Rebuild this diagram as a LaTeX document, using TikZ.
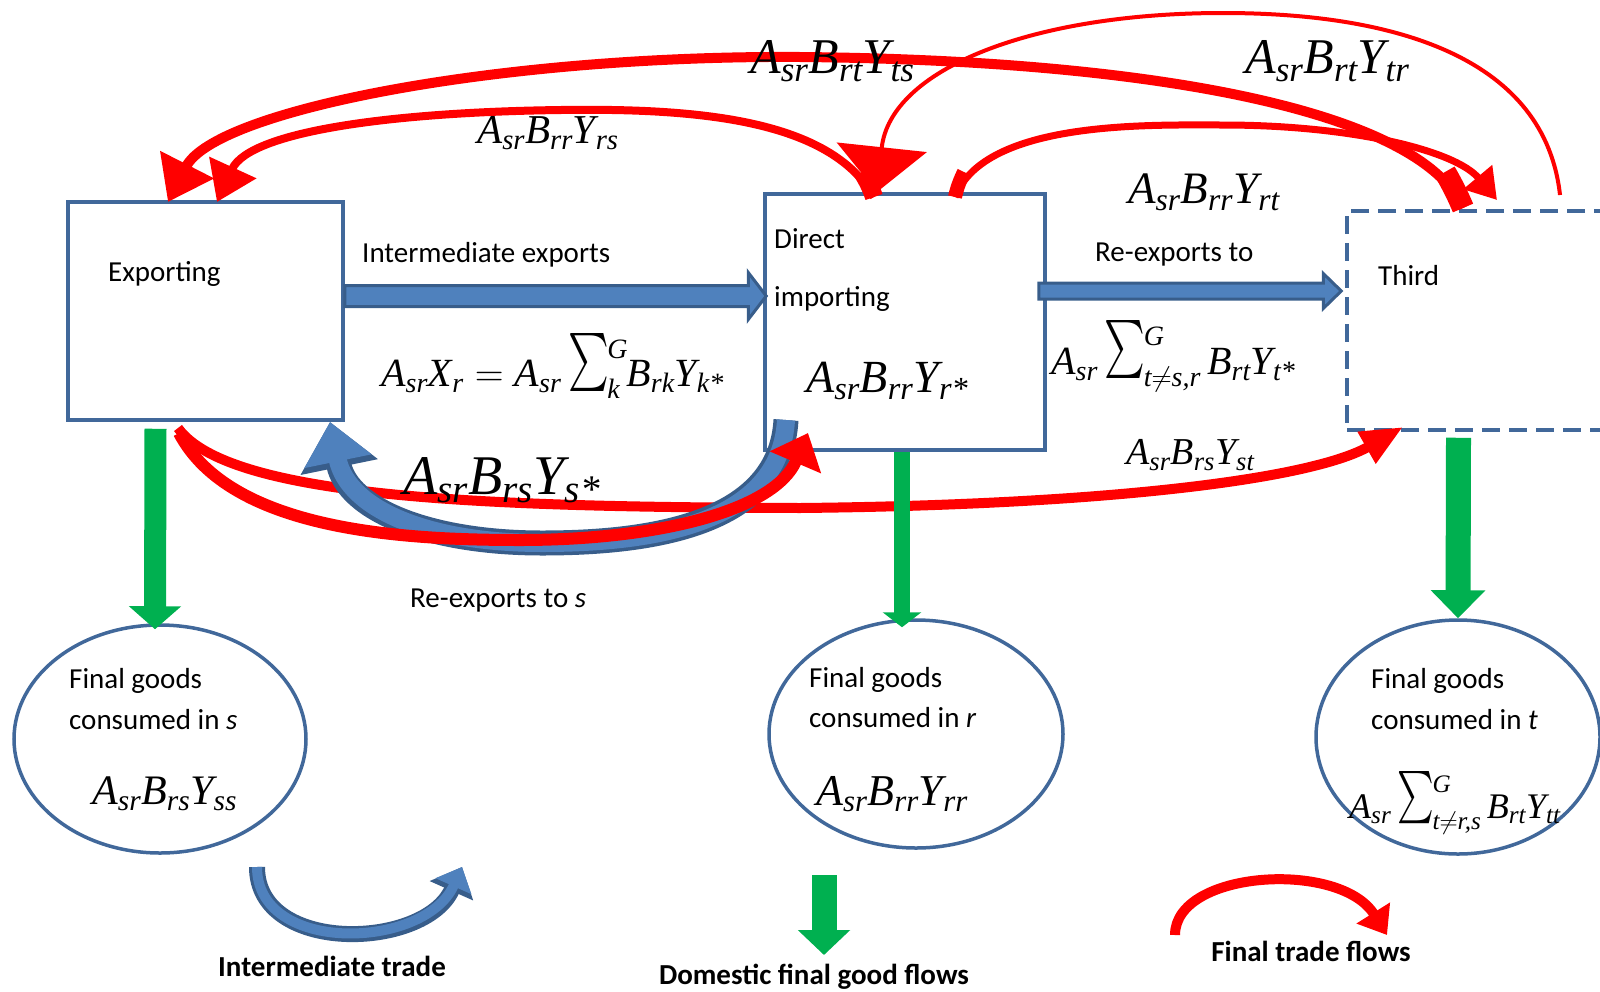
\RequirePackage{fix-cm}
\documentclass[tikz,border=0pt]{standalone}
\usepackage{amsmath}
\usepackage{graphicx}
\usepackage{fontspec}
\setmainfont{Carlito}
\newfontfamily\tms{Liberation Serif}
\usetikzlibrary{arrows.meta,shapes.geometric,calc}
\definecolor{boxc}{HTML}{41689A}
\definecolor{bfill}{HTML}{4F81BD}
\definecolor{bdark}{HTML}{385D8A}
\definecolor{gr}{HTML}{00B050}
\definecolor{rd}{HTML}{FF0000}
\newcommand\T[1]{\text{#1}}
\newcommand\fm[2]{{\fontsize{#1}{#1}\selectfont\tms\itshape$#2$}}
\newcommand\bigS[2]{\mathord{\raisebox{0.04em}{\resizebox*{1.02em}{1.45em}{$\textstyle\sum$}}}\kern-0.04em
  \rlap{\raisebox{0.72em}{$\scriptstyle #2$}}\raisebox{-0.3em}{$\scriptstyle #1$}\,}
\begin{document}
\begin{tikzpicture}[x=1pt,y=-1pt,
  box/.style={draw=boxc,line width=3.5pt,rectangle,inner sep=0pt},
  ell/.style={draw=boxc,line width=3.5pt,ellipse,inner sep=0pt},
  txt/.style={font=\fontsize{29}{35}\selectfont,inner sep=0pt,anchor=west},
  btxt/.style={font=\fontsize{29}{35}\selectfont\bfseries,inner sep=0pt},
  frm/.style={inner sep=0pt,anchor=west},
  rarr/.style={draw=rd,line cap=butt},
  garr/.style={draw=gr,line cap=butt},
  bdk/.style={draw=bdark,line cap=butt},
  blt/.style={draw=bfill,line cap=butt},
  harr/.style={fill=bfill,draw=bdark,line width=3pt,line join=miter}]
\useasboundingbox (0,0) rectangle (1600,991);

% boxes
\node[box,minimum width=275pt,minimum height=218pt] (exp) at (205.5,311) {};
\node[box,minimum width=280pt,minimum height=256pt] (dir) at (905,322) {};
\node[box,dash pattern=on 18pt off 9pt,minimum width=293pt,minimum height=219pt] (thr) at (1493.5,320.5) {};

% ellipses
\node[ell,minimum width=292pt,minimum height=228pt] (ellS) at (160,739) {};
\node[ell,minimum width=294pt,minimum height=228pt] (ellR) at (916,734) {};
\node[ell,minimum width=284pt,minimum height=234pt] (ellT) at (1458,737) {};

% horizontal block arrows
\coordinate (ie0) at ($(exp.east)+(0,-15)$);
\coordinate (ie1) at ($(dir.west)+(3,-26)$);
\draw[harr] ($(ie0)+(0,-10.5)$) -- ($(ie1)+(-18,-10.5)$) -- ($(ie1)+(-18,-23.5)$) -- (ie1)
  -- ($(ie1)+(-18,23.5)$) -- ($(ie1)+(-18,10.5)$) -- ($(ie0)+(0,10.5)$) -- cycle;
\coordinate (re0) at ($(dir.east)+(-8,-31)$);
\coordinate (re1) at ($(thr.west)+(-4,-29.5)$);
\draw[harr] ($(re0)+(0,-8)$) -- ($(re1)+(-18,-8)$) -- ($(re1)+(-18,-17.5)$) -- (re1)
  -- ($(re1)+(-18,17.5)$) -- ($(re1)+(-18,8)$) -- ($(re0)+(0,8)$) -- cycle;

% red curved arrows (top)
\coordinate (tsA) at (1463,208);
\coordinate (tsB) at (168,202);
\draw[rarr,line width=10pt,-{Triangle[width=58pt,length=42pt]}] (tsA) .. controls (1420,110) and (1150,60) .. (800,57) .. controls (500,55) and (215,110) .. (tsB);
\draw[rarr,line width=22pt] (tsA) .. controls (1458,196) and (1452,184) .. (1445,172);
\coordinate (rsA) at (874,197);
\coordinate (rsB) at (217,202);
\draw[rarr,line width=8pt,-{Triangle[width=50pt,length=38pt]}] (rsA) .. controls (830,120) and (700,108) .. (561,110) .. controls (400,112) and (250,130) .. (rsB);
\draw[rarr,line width=18pt] (rsA) .. controls (871,188) and (867,180) .. (862,172);
\coordinate (trA) at (1560,195);
\coordinate (trB) at (877,192);
\draw[rarr,line width=4pt,-{Triangle[width=90pt,length=45pt]}] (trA) .. controls (1545,60) and (1400,13) .. (1223,13) .. controls (1030,13) and (890,70) .. (trB);
\coordinate (rtA) at (955,197);
\coordinate (rtB) at (1497,200);
\draw[rarr,line width=7pt,-{Triangle[width=36pt,length=30pt]}] (rtA) .. controls (985,120) and (1150,125) .. (1223,125) .. controls (1350,125) and (1455,150) .. (rtB);
\draw[rarr,line width=14pt] (rtA) .. controls (957,188) and (960,180) .. (964,172);

% red curved arrows (bottom)
\coordinate (stA) at (178,428);
\coordinate (stB) at (1403,427);
\draw[rarr,line width=10pt,-{Triangle[width=34pt,length=42pt]}] (stA) .. controls (230,500) and (500,507) .. (800,508) .. controls (1100,505) and (1310,480) .. (stB);

% blue re-exports to s
\coordinate (bsA) at (786,420);
\coordinate (bsB) at (330,422);
\draw[bdk,line width=25pt,-{Triangle[width=76pt,length=46pt]}] (bsA) .. controls (780,525) and (650,543) .. (542,543) .. controls (430,543) and (348,510) .. (bsB);
\draw[blt,line width=18pt,-{Triangle[width=66pt,length=40pt]}] (bsA) .. controls (780,525) and (650,543) .. (542,543) .. controls (430,543) and (348,510) .. (bsB);

\coordinate (srA) at (179,433);
\coordinate (srB) at (808,433);
\draw[rarr,line width=12pt,-{Triangle[width=54pt,length=32pt]}] (srA) .. controls (230,530) and (400,540) .. (520,540) .. controls (660,540) and (775,510) .. (srB);

% green arrows
\draw[garr,line width=22pt,-{Triangle[width=51pt,length=23pt]}] ($(exp.south)+(-50,7)$) -- ($(ellS.north)+(-5,6)$);
\draw[garr,line width=16pt,-{Triangle[width=38pt,length=15pt]}] ($(dir.south)+(-3,0)$) -- ($(ellR.north)+(-14,9)$);
\draw[garr,line width=25pt,-{Triangle[width=53pt,length=28pt]}] ($(thr.south)+(-35,6)$) -- ($(ellT.north)+(0,0)$);

% legend arrows
\coordinate (lbA) at (257,867);
\coordinate (lbB) at (462,867);
\draw[bdk,line width=16pt,-{Triangle[width=46pt,length=26pt]}] (lbA) .. controls (257,955) and (425,950) .. (lbB);
\draw[blt,line width=10pt,-{Triangle[width=38pt,length=21pt]}] (lbA) .. controls (257,955) and (425,950) .. (lbB);
\coordinate (lgA) at (824,875);
\coordinate (lgB) at (824,955);
\draw[garr,line width=25pt,-{Triangle[width=51pt,length=25pt]}] (lgA) -- (lgB);
\coordinate (lrA) at (1175,935);
\coordinate (lrB) at (1387,935);
\draw[rarr,line width=10pt,-{Triangle[width=38pt,length=26pt]}] (lrA) .. controls (1175,870) and (1340,860) .. (lrB);

% texts
\node[txt] (tExp) at (108,274) {Exporting};
\node[txt] (tIE) at (362,255) {Intermediate exports};
\node[txt] (tDir) at (774,239) {Direct};
\node[txt] (tImp) at (774,299) {importing};
\node[txt] (tRe) at (1095,255) {Re-exports to};
\node[txt] (tThr) at (1378,276) {Third};
\node[txt] (tRes) at (410,601) {Re-exports to \textit{s}};
\node[txt] (tS1) at (69,681) {Final goods};
\node[txt] (tS2) at (69,720) {consumed in \textit{s}};
\node[txt] (tR1) at (809,680) {Final goods};
\node[txt] (tR2) at (809,718) {consumed in \textit{r}};
\node[txt] (tT1) at (1371,681) {Final goods};
\node[txt] (tT2) at (1371,720) {consumed in \textit{t}};
\node[btxt] (lg1) at (332,966) {Intermediate trade};
\node[btxt] (lg2) at (814,977) {Domestic final good flows};
\node[btxt] (lg3) at (1311,951) {Final trade flows};

% formulas
\node[frm] (fts) at (750,61) {\fm{50}{\T{A}_{\T{sr}}\T{B}_{\T{rt}}\T{Y}_{\T{ts}}}};
\node[frm] (ftr) at (1245,61) {\fm{50}{\T{A}_{\T{sr}}\T{B}_{\T{rt}}\T{Y}_{\T{tr}}}};
\node[frm] (frs) at (477,133) {\fm{41}{\T{A}_{\T{sr}}\T{B}_{\T{rr}}\T{Y}_{\T{rs}}}};
\node[frm] (frt) at (1128,192) {\fm{45}{\T{A}_{\T{sr}}\T{B}_{\T{rr}}\T{Y}_{\T{rt}}}};
\node[frm] (fmain) at (381,366) {\fm{40}{\T{A}_{\T{sr}}\T{X}_{\T{r}} = \T{A}_{\T{sr}}\,\bigS{\T{k}}{\T{G}}\T{B}_{\T{rk}}\T{Y}_{\T{k*}}}};
\node[frm] (fsum) at (1051,356) {\fm{40}{\T{A}_{\T{sr}}\,\bigS{\T{t}\neq\T{s,r}}{\T{G}}\T{B}_{\T{rt}}\T{Y}_{\T{t*}}}};
\node[frm] (frst) at (806,381) {\fm{46}{\T{A}_{\T{sr}}\T{B}_{\T{rr}}\T{Y}_{\T{r*}}}};
\node[frm] (fss) at (403,480) {\fm{56}{\T{A}_{\T{sr}}\T{B}_{\T{rs}}\T{Y}_{\T{s*}}}};
\node[frm] (fst) at (1126,455) {\fm{38}{\T{A}_{\T{sr}}\T{B}_{\T{rs}}\T{Y}_{\T{st}}}};
\node[frm] (fSS) at (92,794) {\fm{42}{\T{A}_{\T{sr}}\T{B}_{\T{rs}}\T{Y}_{\T{ss}}}};
\node[frm] (fRR) at (816,794) {\fm{44}{\T{A}_{\T{sr}}\T{B}_{\T{rr}}\T{Y}_{\T{rr}}}};
\node[frm] (fTT) at (1349,803) {\fm{36}{\T{A}_{\T{sr}}\,\bigS{\T{t}\neq\T{r,s}}{\T{G}}\T{B}_{\T{rt}}\T{Y}_{\T{tt}}}};
\end{tikzpicture}
\end{document}
